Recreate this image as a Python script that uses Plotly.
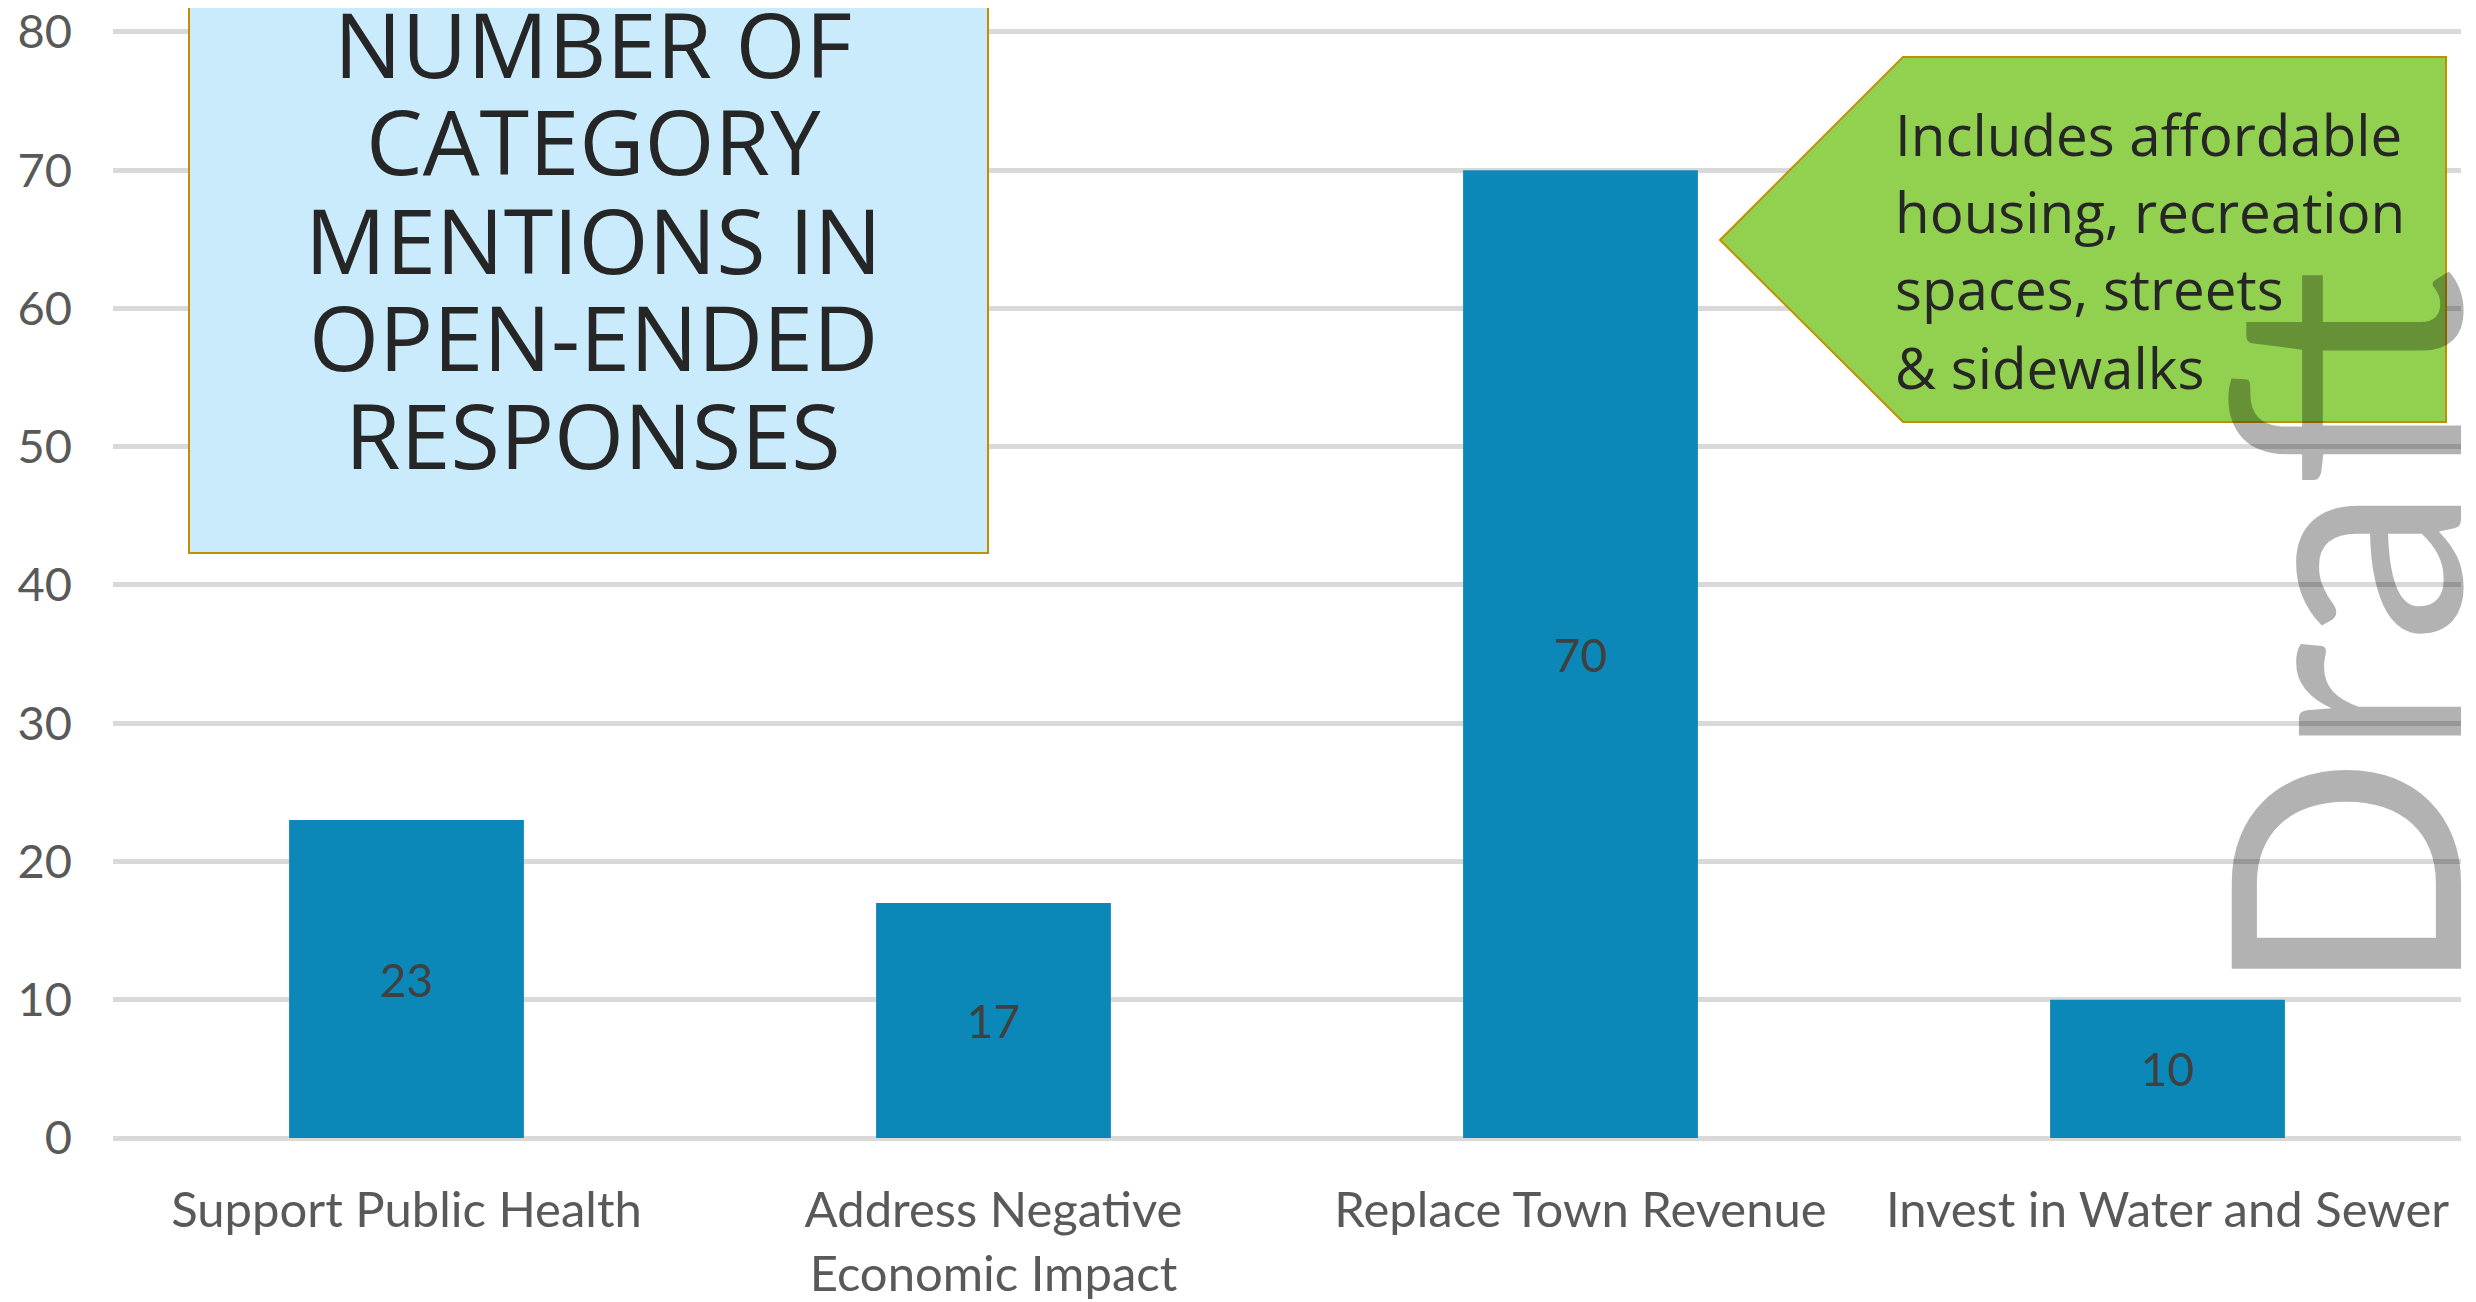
import plotly.graph_objects as go

categories = ["Support Public Health", "Address Negative<br>Economic Impact",
              "Replace Town Revenue", "Invest in Water and Sewer"]
values = [23, 17, 70, 10]
y_ticks = [0, 10, 20, 30, 40, 50, 60, 70, 80]
title_lines = ["NUMBER OF", "CATEGORY", "MENTIONS IN", "OPEN-ENDED", "RESPONSES"]
callout_lines = ["Includes affordable", "housing, recreation", "spaces, streets", "&amp; sidewalks"]

OFF = 8  # default page body margin
W, H = 2476 - 2 * OFF, 1302 - OFF
Y_MAX = 80.5
UNIT = (1138 - 32) / 80.0  # pixels per unit
TOP_PAGE = 32 - (Y_MAX - 80) * UNIT
# plot area in page pixels: x 113.5..2461, y TOP_PAGE..1138
L, R = 113 - OFF, W - (2461 - OFF)
T, B = TOP_PAGE - OFF, H - (1138 - OFF)
PW, PH = W - L - R, H - T - B


def px(x):
    return (x - OFF - L) / PW


def py(y):
    return (H - B - (y - OFF)) / PH


fig = go.Figure()
fig.add_trace(go.Bar(
    x=categories, y=values,
    marker=dict(color="#0B88B8", line=dict(width=0)),
    text=values, textposition="inside", insidetextanchor="middle",
    textangle=0,
    textfont=dict(family="Lato", size=46, color="#404040"),
    hoverinfo="skip",
))

shapes = [
    dict(type="rect", xref="paper", yref="paper", layer="above",
         x0=px(189), x1=px(988), y0=py(553), y1=py(-20),
         fillcolor="#C9EBFB", line=dict(color="#BF9000", width=2)),
    dict(type="path", xref="paper", yref="paper", layer="above",
         path=(f"M {px(1720)},{py(240)} L {px(1903)},{py(57)} L {px(2446)},{py(57)} "
               f"L {px(2446)},{py(422)} L {px(1903)},{py(422)} Z"),
         fillcolor="#92D050", line=dict(color="#BF9000", width=2)),
]

annotations = []
title_y = [43, 140, 239, 336, 434]
for t, yy in zip(title_lines, title_y):
    annotations.append(dict(xref="paper", yref="paper", x=px(593), y=py(yy),
                            text=t, showarrow=False, xanchor="center", yanchor="middle",
                            font=dict(family="Open Sans", size=90, color="#262626")))
callout_y = [135, 212, 289, 368]
for t, yy in zip(callout_lines, callout_y):
    annotations.append(dict(xref="paper", yref="paper", x=px(1893), y=py(yy),
                            text=t, showarrow=False, xanchor="left", yanchor="middle",
                            font=dict(family="Open Sans", size=56.5, color="#262626")))
annotations.append(dict(xref="paper", yref="paper", x=px(2337), y=py(633),
                        text="Draft", showarrow=False, textangle=-90,
                        xanchor="center", yanchor="middle",
                        font=dict(family="Lato", size=320, color="rgba(0,0,0,0.3)")))

fig.update_layout(
    width=W, height=H,
    margin=dict(l=L, r=R, t=T, b=B, autoexpand=False),
    paper_bgcolor="white", plot_bgcolor="white",
    bargap=0.6, showlegend=False,
    shapes=shapes, annotations=annotations,
    xaxis=dict(showgrid=False, showline=False, zeroline=False, ticks="",
               ticklabelstandoff=39,
               tickfont=dict(family="Lato", size=49, color="#595959")),
    yaxis=dict(range=[0, Y_MAX], tickvals=y_ticks, showgrid=True,
               gridcolor="#D9D9D9", gridwidth=4.5, zeroline=True,
               zerolinecolor="#D9D9D9", zerolinewidth=4.5, showline=False,
               ticks="", ticklabelstandoff=40, ticklabeloverflow="allow",
               tickfont=dict(family="Lato", size=47, color="#595959")),
)

fig.write_html("out.html")
